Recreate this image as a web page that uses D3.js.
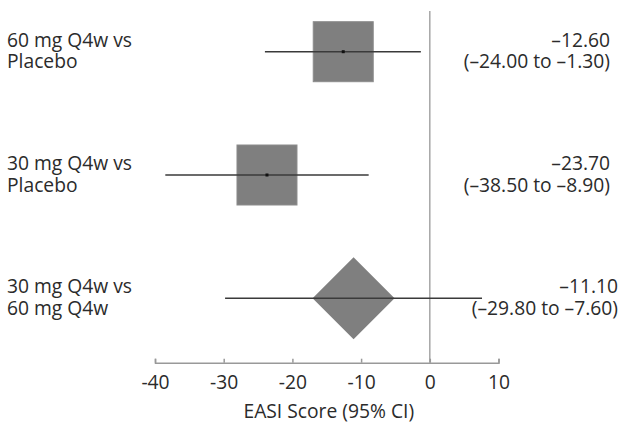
<!DOCTYPE html>
<html>
<head>
<meta charset="utf-8">
<script src="https://cdn.jsdelivr.net/npm/d3@7"></script>
<style>
  html, body { margin: 0; padding: 0; background: #fff; }
  svg { display: block; }
  text { font-family: "Open Sans", sans-serif; fill: #2b2b2b; }
</style>
</head>
<body>
<svg id="chart" width="623" height="423"></svg>
<script>
// ---- data ----
const comparisonLine1 = ["60 mg Q4w vs", "30 mg Q4w vs", "30 mg Q4w vs"];
const comparisonLine2 = ["Placebo", "Placebo", "60 mg Q4w"];
const estimates = [-12.6, -23.7, -11.1];
const ciLower = [-24.0, -38.5, -29.8];
const ciUpper = [-1.3, -8.9, 7.6];
const estimateLabels = ["\u201312.60", "\u201323.70", "\u201311.10"];
const ciLabels = ["(\u201324.00 to \u20131.30)", "(\u201338.50 to \u20138.90)", "(\u201329.80 to \u20137.60)"];
const markerTypes = ["square", "square", "diamond"];
const xTicks = [-40, -30, -20, -10, 0, 10];
const xTitle = "EASI Score (95% CI)";

// ---- layout ----
const svg = d3.select("#chart");
const x = d3.scaleLinear().domain([-40, 10]).range([155, 498.5]);
const rows = d3.range(estimates.length);
const y = d3.scalePoint().domain(rows).range([51.7, 298.3]);
const axisY = 362.7;
const fontSize = 20.5;
const squeeze = 0.94;
const lineGap = 21.7;
const rightEdge = [610, 610, 618];

// reference line at 0
svg.append("line")
  .attr("x1", x(0)).attr("x2", x(0))
  .attr("y1", 11).attr("y2", axisY)
  .attr("stroke", "#a6a6a6").attr("stroke-width", 1.5);

// markers
const g = svg.append("g");
rows.forEach(i => {
  const cx = x(estimates[i]), cy = y(i);
  if (markerTypes[i] === "square") {
    const s = 60;
    g.append("rect")
      .attr("x", cx - s / 2).attr("y", cy - s / 2)
      .attr("width", s).attr("height", s)
      .attr("fill", "#7f7f7f").attr("stroke", "#8c8c8c").attr("stroke-width", 1);
  } else {
    const h = 41;
    g.append("path")
      .attr("d", `M${cx},${cy - h}L${cx + h},${cy}L${cx},${cy + h}L${cx - h},${cy}Z`)
      .attr("fill", "#7f7f7f");
  }
  g.append("line")
    .attr("x1", x(ciLower[i])).attr("x2", x(ciUpper[i]))
    .attr("y1", cy).attr("y2", cy)
    .attr("stroke", "#3a3a3a").attr("stroke-width", 1.6);
  if (markerTypes[i] === "square") {
    g.append("rect")
      .attr("x", cx - 1.5).attr("y", cy - 1.5)
      .attr("width", 3).attr("height", 3)
      .attr("fill", "#111");
  }
});

function squeezedText(parent, tx, ty, str, anchor) {
  return parent.append("text")
    .attr("transform", `translate(${tx},${ty}) scale(${squeeze},1)`)
    .attr("text-anchor", anchor)
    .attr("font-size", fontSize)
    .text(str);
}

// left labels
const left = svg.append("g");
rows.forEach(i => {
  squeezedText(left, 7, y(i) - 5, comparisonLine1[i], "start");
  squeezedText(left, 7, y(i) - 5 + lineGap, comparisonLine2[i], "start");
});

// right labels
const right = svg.append("g");
rows.forEach(i => {
  squeezedText(right, rightEdge[i], y(i) - 5, estimateLabels[i], "end");
  squeezedText(right, rightEdge[i], y(i) - 5 + lineGap, ciLabels[i], "end");
});

// axis
const axis = d3.axisBottom(x)
  .tickValues(xTicks)
  .tickFormat(d => String(d))
  .tickSizeInner(-4)
  .tickSizeOuter(-4)
  .tickPadding(11.7);
const ax = svg.append("g").attr("transform", `translate(0,${axisY})`).call(axis);
ax.select(".domain").attr("stroke", "#999").attr("stroke-width", 1.5);
ax.selectAll(".tick line").attr("stroke", "#999").attr("stroke-width", 1.5);
ax.selectAll(".tick text")
  .attr("font-size", fontSize)
  .attr("font-family", "Open Sans, sans-serif")
  .attr("fill", "#2b2b2b")
  .attr("transform", `scale(${squeeze},1)`);

squeezedText(svg, (x.range()[0] + x.range()[1]) / 2 + 2, 417.5, xTitle, "middle");
</script>
</body>
</html>
